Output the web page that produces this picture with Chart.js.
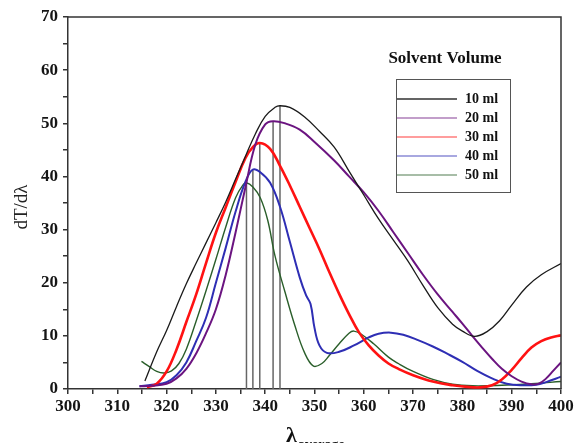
<!DOCTYPE html>
<html>
<head>
<meta charset="utf-8">
<script src="https://cdn.jsdelivr.net/npm/chart.js@4.4.1/dist/chart.umd.min.js"></script>
<style>
    html, body { margin: 0; padding: 0; background: #fff; }
    #wrap { width: 576px; height: 443px; }
</style>
</head>
<body>
<div id="wrap"><canvas id="dtChart" width="576" height="443"></canvas></div>
<script>
// series labels (legend)
var volumes = ['10 ml', '20 ml', '30 ml', '40 ml', '50 ml'];

// 10 ml
var wl10 = [315.6, 318, 320, 322, 324, 326, 328, 330, 332, 334, 336, 338, 340, 342, 343, 345, 348, 351, 354, 357, 360, 363, 366, 369, 372, 375, 378, 380, 382.5, 385, 387.5, 390, 393, 396, 400];
var dt10 = [1.5, 7, 11, 15.5, 19.8, 23.7, 27.5, 31.3, 35.2, 39.5, 43.8, 48, 51.3, 53, 53.3, 53, 51.2, 48.5, 45.5, 41, 36.5, 32, 28, 24, 19.5, 15.3, 12.2, 10.9, 9.9, 10.8, 12.8, 15.8, 19.2, 21.5, 23.6];

// 20 ml
var wl20 = [314.5, 317, 320, 322, 324, 326, 328, 330, 332, 334, 336, 338, 340, 341.6, 344, 347, 350, 354, 357, 360, 363, 366, 369, 372, 375, 378, 380, 382, 384, 386, 388, 390, 392, 394, 395.5, 397, 398.5, 400];
var dt20 = [0.5, 0.6, 1, 2, 3.8, 6.7, 10.5, 15, 21.5, 29.5, 38, 46, 49.8, 50.4, 50, 48.8, 46.5, 43, 40, 37, 33.5, 29.5, 25.5, 21.5, 17.8, 14.5, 12.3, 10, 7.8, 5.7, 3.8, 2.4, 1.4, 0.9, 1, 2, 3.5, 5];

// 30 ml
var wl30 = [316, 318, 320, 322, 324, 326, 328, 330, 332, 334, 336, 337.5, 338.9, 341, 343, 345, 347, 349, 351, 353, 355, 357, 359, 361, 363, 365, 367, 370, 374, 378, 381, 383.5, 386, 388, 390, 392, 394, 396, 398, 400];
var dt30 = [0.3, 1, 3.3, 7.4, 12.6, 17.8, 23.7, 29.4, 34.2, 39, 43.5, 45.5, 46.3, 45.2, 42, 38.3, 34.3, 30.3, 26.3, 22, 17.9, 14.1, 10.7, 8.2, 6.3, 4.8, 3.8, 2.6, 1.4, 0.7, 0.4, 0.3, 0.7, 1.8, 3.6, 5.8, 7.8, 9, 9.7, 10.1];

// 40 ml
var wl40 = [314.5, 317, 320, 322, 324, 326, 328, 330, 332, 334, 336, 337.5, 339, 341, 343, 345, 347, 348.3, 349.2, 350, 351, 352.5, 355, 358, 361, 363, 365.5, 368, 371, 374, 377, 380, 383, 386, 389, 392, 395, 397, 400];
var dt40 = [0.5, 0.8, 1.3, 2.6, 5, 9, 13.4, 20, 26.6, 33.4, 39, 41.3, 40.8, 38.8, 34.3, 27.7, 21, 17.6, 16, 11.5, 8.2, 6.8, 7, 8.2, 9.7, 10.4, 10.6, 10.2, 9.2, 8, 6.6, 5.1, 3.4, 2, 1, 0.7, 0.8, 1.3, 2.3];

// 50 ml
var wl50 = [314.9, 316.5, 318, 319.5, 321, 322.5, 324, 326, 328, 330, 332, 334, 335.5, 336.2, 337.5, 339, 340.5, 342, 344, 346, 348, 349.8, 351.5, 353, 355, 357, 358, 359.5, 362, 365, 367, 370, 374, 378, 382, 388, 394, 400];
var dt50 = [5.2, 4.2, 3.3, 3, 3.4, 4.8, 7.5, 12.8, 18.5, 24.4, 30.5, 36, 38.4, 38.8, 38, 36, 31.8, 25, 18.3, 12, 6.8, 4.3, 4.8, 6.3, 8.5, 10.5, 10.9, 10.3, 8.5, 6, 4.8, 3.3, 1.8, 0.9, 0.6, 0.7, 1, 1.4];

// peak positions (drop lines)
var peakWl = [343, 341.6, 338.9, 337.5, 336.2];
var peakDt = [53.3, 50.4, 46.3, 41.3, 38.8];

var xTicks = [300, 310, 320, 330, 340, 350, 360, 370, 380, 390, 400];
var yTicks = [0, 10, 20, 30, 40, 50, 60, 70];

var curveColors = ['#1a1a1a', '#6b1480', '#ff1212', '#2e2eb4', '#2a5e2a'];
var curveWidths = [1.3, 2, 2.6, 2, 1.4];

function zip(xs, ys) {
    return xs.map(function (x, i) { return { x: x, y: ys[i] }; });
}

var series = [[wl10, dt10], [wl20, dt20], [wl30, dt30], [wl40, dt40], [wl50, dt50]];
var datasets = series.map(function (s, i) {
    return {
        label: volumes[i],
        data: zip(s[0], s[1]),
        borderColor: curveColors[i],
        borderWidth: curveWidths[i],
        pointRadius: 0,
        fill: false,
        tension: 0.4
    };
});
peakWl.forEach(function (w, i) {
    datasets.push({
        label: 'peak ' + volumes[i],
        data: [{ x: w, y: 0 }, { x: w, y: peakDt[i] }],
        borderColor: '#666',
        borderWidth: 1.5,
        pointRadius: 0,
        fill: false,
        tension: 0
    });
});

var serif = '"Liberation Serif", "Times New Roman", serif';

var framePlugin = {
    id: 'frame',
    afterDraw: function (chart) {
        var ctx = chart.ctx;
        var a = chart.chartArea;
        ctx.save();
        // top and right border
        ctx.strokeStyle = '#333';
        ctx.lineWidth = 1.5;
        ctx.beginPath();
        ctx.moveTo(a.left, a.top);
        ctx.lineTo(a.right, a.top);
        ctx.lineTo(a.right, a.bottom);
        ctx.stroke();

        // y title
        ctx.fillStyle = '#222';
        ctx.font = '19px ' + serif;
        ctx.textAlign = 'center';
        ctx.textBaseline = 'middle';
        ctx.translate(22, 207);
        ctx.rotate(-Math.PI / 2);
        ctx.fillText('dT/d\u03bb', 0, 0);
        ctx.restore();

        // x title, subscript partly cut by the bottom edge
        ctx.save();
        ctx.fillStyle = '#111';
        ctx.font = 'bold 22px ' + serif;
        ctx.textAlign = 'left';
        ctx.textBaseline = 'alphabetic';
        ctx.fillText('\u03bb', 286, 442);
        ctx.font = 'bold 14px ' + serif;
        ctx.fillText('average', 298, 449);
        ctx.restore();

        // legend
        ctx.save();
        ctx.fillStyle = '#111';
        ctx.font = 'bold 17px ' + serif;
        ctx.textAlign = 'center';
        ctx.textBaseline = 'middle';
        ctx.fillText('Solvent Volume', 445, 59);
        ctx.strokeStyle = '#555';
        ctx.lineWidth = 1;
        ctx.strokeRect(396.5, 79.5, 114, 113);
        ctx.font = 'bold 14px ' + serif;
        ctx.textAlign = 'left';
        for (var i = 0; i < volumes.length; i++) {
            var y = 99 + i * 19;
            ctx.strokeStyle = curveColors[i];
            ctx.globalAlpha = i === 0 ? 0.9 : 0.55;
            ctx.lineWidth = 1.5;
            ctx.beginPath();
            ctx.moveTo(397, y);
            ctx.lineTo(457, y);
            ctx.stroke();
            ctx.globalAlpha = 1;
            ctx.fillText(volumes[i], 465, y);
        }
        ctx.restore();
    }
};

function axisOptions(min, max, majors, fixSize) {
    return {
        type: 'linear',
        min: min,
        max: max,
        afterFit: fixSize,
        border: { display: true, color: '#333', width: 1.5 },
        grid: {
            drawOnChartArea: false,
            drawTicks: true,
            tickLength: 5,
            color: '#333',
            lineWidth: 1.5
        },
        ticks: {
            stepSize: 5,
            autoSkip: false,
            maxRotation: 0,
            color: '#151515',
            font: { family: 'Liberation Serif', size: 17, weight: 'bold' },
            callback: function (value) {
                return majors.indexOf(value) >= 0 ? String(value) : '';
            }
        }
    };
}

var xOpts = axisOptions(300, 400, xTicks, function (scale) { scale.height = 54; });
xOpts.ticks.padding = 2;
var yOpts = axisOptions(0, 70, yTicks, function (scale) { scale.width = 68; });
yOpts.ticks.padding = 5;

new Chart(document.getElementById('dtChart'), {
    type: 'line',
    data: { datasets: datasets },
    options: {
        responsive: false,
        animation: false,
        devicePixelRatio: 1,
        layout: { padding: { top: 17, right: 15, left: 0, bottom: 0 } },
        plugins: {
            legend: { display: false },
            tooltip: { enabled: false }
        },
        scales: { x: xOpts, y: yOpts }
    },
    plugins: [framePlugin]
});
</script>
</body>
</html>
